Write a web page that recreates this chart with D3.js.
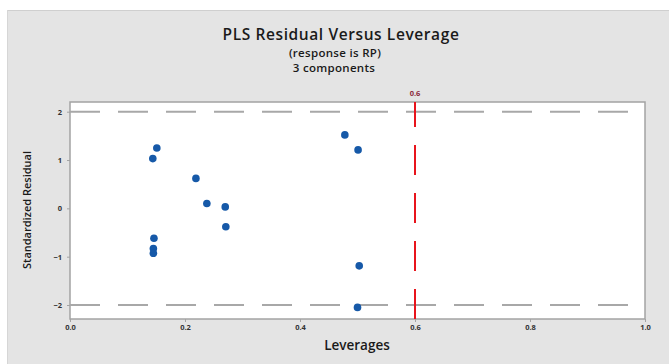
<!DOCTYPE html>
<html>
<head>
<meta charset="utf-8">
<script src="https://cdn.jsdelivr.net/npm/d3@7"></script>
<style>
  html, body { margin: 0; padding: 0; background: #ffffff; }
  svg { display: block; }
</style>
</head>
<body>
<svg id="chart" width="669" height="364"></svg>
<script>
// Leverage (x) and standardized residual (y) for each observation
const leverages = [0.151, 0.144, 0.219, 0.238, 0.270, 0.271, 0.146, 0.145, 0.145, 0.478, 0.501, 0.503, 0.500];
const residuals = [1.25, 1.03, 0.62, 0.10, 0.03, -0.38, -0.62, -0.83, -0.93, 1.52, 1.21, -1.19, -2.05];

const xTicks = [0.0, 0.2, 0.4, 0.6, 0.8, 1.0];
const yTicks = [-2, -1, 0, 1, 2];
const residualLimits = [-2, 2];
const leverageLimit = [0.6];

const titleLines = ["PLS Residual Versus Leverage", "(response is RP)", "3 components"];

const svg = d3.select("#chart");
const W = 669, H = 364;

// Outer gray panel
svg.append("rect").attr("x", 7).attr("y", 10).attr("width", W - 7).attr("height", H - 10)
  .attr("fill", "#e4e4e4");
svg.append("line").attr("x1", 7).attr("x2", W).attr("y1", 10.5).attr("y2", 10.5)
  .attr("stroke", "#cfcfcf").attr("stroke-width", 1);
svg.append("line").attr("x1", 7.5).attr("x2", 7.5).attr("y1", 10).attr("y2", H)
  .attr("stroke", "#d6d6d6").attr("stroke-width", 1);

// Data region
const frame = { left: 70, right: 645, top: 102, bottom: 319 };
const x = d3.scaleLinear().domain([0, 1]).range([frame.left, frame.right]);
const y = d3.scaleLinear().domain([-2, 2]).range([305, 111.7]);

svg.append("rect")
  .attr("x", frame.left).attr("y", frame.top)
  .attr("width", frame.right - frame.left).attr("height", frame.bottom - frame.top)
  .attr("fill", "#ffffff").attr("stroke", "#a3a3a3").attr("stroke-width", 1.5);

// Titles
const font = "'Open Sans', 'Noto Sans', sans-serif";
svg.append("text").attr("x", 341).attr("y", 40).attr("text-anchor", "middle")
  .attr("font-family", font).attr("font-size", 15.5).attr("font-weight", 600)
  .attr("letter-spacing", 0.6)
  .attr("fill", "#1a1a1a").text(titleLines[0]);
svg.append("text").attr("x", 335).attr("y", 57).attr("text-anchor", "middle")
  .attr("font-family", font).attr("font-size", 11.5).attr("font-weight", 600)
  .attr("letter-spacing", 0.3)
  .attr("fill", "#1a1a1a").text(titleLines[1]);
svg.append("text").attr("x", 334).attr("y", 72).attr("text-anchor", "middle")
  .attr("font-family", font).attr("font-size", 11.5).attr("font-weight", 600)
  .attr("letter-spacing", 0.3)
  .attr("fill", "#1a1a1a").text(titleLines[2]);

// Reference lines at +/-2 standardized residual
svg.append("g").selectAll("line").data(residualLimits).join("line")
  .attr("x1", frame.left).attr("x2", 631)
  .attr("y1", d => y(d)).attr("y2", d => y(d))
  .attr("stroke", "#a8a8a8").attr("stroke-width", 2)
  .attr("stroke-dasharray", "30,18");

// Leverage cut-off line
svg.append("g").selectAll("line").data(leverageLimit).join("line")
  .attr("x1", d => x(d)).attr("x2", d => x(d))
  .attr("y1", frame.bottom).attr("y2", frame.top)
  .attr("stroke", "#e8141c").attr("stroke-width", 2)
  .attr("stroke-dasharray", "30,18");
svg.append("g").selectAll("text").data(leverageLimit).join("text")
  .attr("x", d => x(d)).attr("y", 96).attr("text-anchor", "middle")
  .attr("font-family", font).attr("font-size", 7.5).attr("font-weight", 700)
  .attr("fill", "#8b2a3a").text(d => d3.format(".1f")(d));

// Axes
const xAxis = d3.axisBottom(x).tickValues(xTicks).tickFormat(d3.format(".1f"))
  .tickSize(3).tickPadding(3);
const gx = svg.append("g").attr("transform", `translate(0,${frame.bottom})`).call(xAxis);
gx.select(".domain").remove();
gx.selectAll("line").attr("stroke", "#a3a3a3");
gx.selectAll("text").attr("font-family", font).attr("font-size", 7.5)
  .attr("font-weight", 700).attr("fill", "#333");

const yAxis = d3.axisLeft(y).tickValues(yTicks).tickFormat(d3.format("d"))
  .tickSize(3).tickPadding(5);
const gy = svg.append("g").attr("transform", `translate(${frame.left},0)`).call(yAxis);
gy.select(".domain").remove();
gy.selectAll("line").attr("stroke", "#a3a3a3");
gy.selectAll("text").attr("font-family", font).attr("font-size", 7.5)
  .attr("font-weight", 700).attr("fill", "#333");

// Axis titles
svg.append("text").attr("x", 357).attr("y", 350).attr("text-anchor", "middle")
  .attr("font-family", font).attr("font-size", 13.5).attr("font-weight", 600)
  .attr("fill", "#1a1a1a").text("Leverages");
svg.append("text").attr("transform", "translate(31,210) rotate(-90)")
  .attr("text-anchor", "middle")
  .attr("font-family", font).attr("font-size", 11).attr("font-weight", 600)
  .attr("fill", "#1a1a1a").text("Standardized Residual");

// Points
svg.append("g").selectAll("circle").data(leverages).join("circle")
  .attr("cx", d => x(d))
  .attr("cy", (d, i) => y(residuals[i]))
  .attr("r", 3.8)
  .attr("fill", "#1659a8");
</script>
</body>
</html>
